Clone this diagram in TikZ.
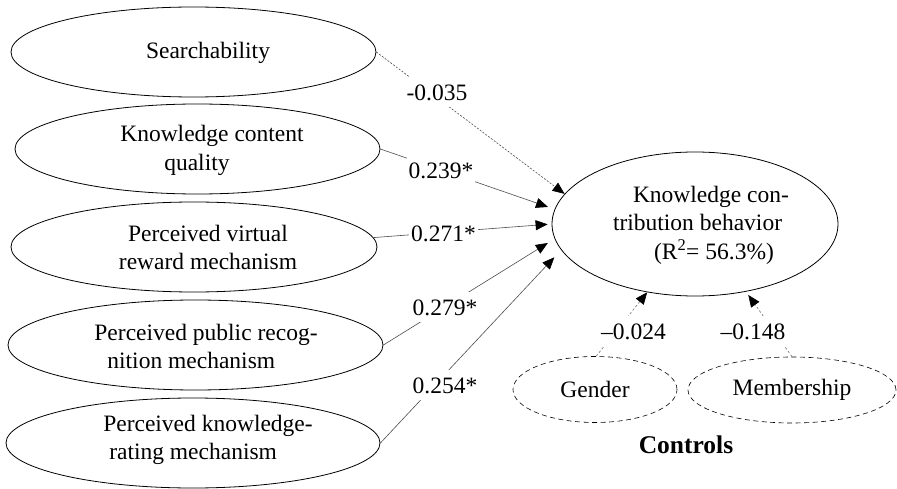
\documentclass[tikz,border=0pt]{standalone}
\usepackage{fontspec}
\setmainfont{Liberation Serif}
\usetikzlibrary{arrows.meta,shapes.geometric}
\begin{document}
\begin{tikzpicture}[x=1pt,y=-1pt,
  every node/.style={font=\fontsize{23.5}{28.5}\selectfont},
  construct/.style={draw, ellipse, line width=0.8pt, inner sep=0pt,
    minimum width=#1, minimum height=90pt},
  control/.style={draw, ellipse, line width=0.6pt, dash pattern=on 5pt off 3.5pt,
    inner sep=0pt, minimum width=#1, minimum height=66pt},
  txt/.style={inner sep=0pt, align=#1},
  txt/.default=center,
  path/.style={draw=black!70, line width=0.6pt,
    -{Triangle[length=12pt,width=10pt,color=black]}},
  weak/.style={dash pattern=on 2pt off 1.5pt},
  ctrlpath/.style={dash pattern=on 2.5pt off 2pt, draw=black!55},
  coef/.style={fill=white, inner xsep=2pt, inner ysep=7pt,
    text height=16.5pt, text depth=0pt}
]
\useasboundingbox (0,0) rectangle (897,489);

% predictors
\node[construct=365pt] (s1) at (193.5,52) {};
\node[construct=365pt] (s2) at (197.5,149) {};
\node[construct=366pt] (s3) at (194,247) {};
\node[construct=375pt] (s4) at (195.5,345) {};
\node[construct=374pt] (s5) at (193,443) {};

\node[txt] (s1t) at (208,53) {Searchability};
\node[txt=left] (s2t) at (212,150.5) {Knowledge content\\\hspace*{44pt}quality};
\node[txt] (s3t) at (208,247.5) {Perceived virtual\\reward mechanism};
\node[txt=left] (s4t) at (206,346.5) {Perceived public recog-\\\hspace*{13pt}nition mechanism};
\node[txt=left] (s5t) at (208,440) {Perceived knowledge-\\\hspace*{6pt}rating mechanism};

% outcome
\node[draw, ellipse, line width=0.8pt, inner sep=0pt,
  minimum width=286pt, minimum height=144pt] (kcb) at (695,224) {};
\node[txt=left] (kcbt) at (701,225)
  {\hspace*{20pt}Knowledge con-\\tribution behavior\\\hspace*{41pt}(R\textsuperscript{2}= 56.3\%)};

% controls
\node[control=164pt] (gen) at (595,389.5) {Gender};
\node[control=208pt] (mem) at (792,390) {Membership};
\node[font=\fontsize{25.5}{30}\selectfont\bfseries] (ctl) at (686,445) {Controls};

% paths
\draw[path, weak] (s1.east) -- (kcb.167);
\draw[path, shorten >=7pt] (s2.east) -- (kcb.174);
\draw[path, shorten >=4pt] (s3.3) -- (kcb.180.6);
\draw[path, shorten >=8pt] (s4.east) -- (kcb.186);
\draw[path, shorten >=10pt] (s5.east) -- (kcb.191.5);
\draw[path, ctrlpath] (gen.88) -- (kcb.235);
\draw[path, ctrlpath, shorten >=4pt] (mem.north) -- (kcb.307.8);

% coefficients
\node[coef] (c1) at (437,92) {-0.035};
\node[coef] (c2) at (441,170) {0.239*};
\node[coef] (c3) at (443.5,233) {0.271*};
\node[coef] (c4) at (445,307) {0.279*};
\node[coef] (c5) at (445,385) {0.254*};
\node[coef] (c6) at (633.5,331) {--0.024};
\node[coef] (c7) at (753,331) {--0.148};
\end{tikzpicture}
\end{document}
